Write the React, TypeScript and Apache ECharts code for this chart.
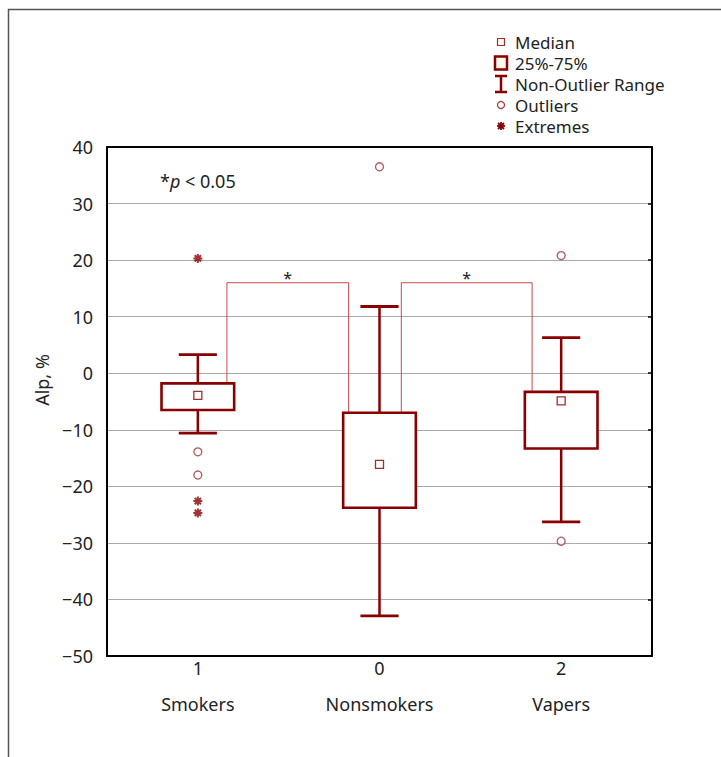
import React, { useEffect, useRef } from "react";
import * as echarts from "echarts";

const categories = ["Smokers", "Nonsmokers", "Vapers"];
const groupCodes = ["1", "0", "2"];
const whiskerLow = [-10.6, -42.9, -26.3];
const q1 = [-6.5, -23.8, -13.3];
const median = [-3.9, -16.1, -4.9];
const q3 = [-1.8, -7.0, -3.3];
const whiskerHigh = [3.3, 11.8, 6.3];
const outliers = [
  [0, -13.9],
  [0, -18.0],
  [1, 36.5],
  [2, 20.8],
  [2, -29.7],
];
const extremes = [
  [0, 20.3],
  [0, -22.6],
  [0, -24.7],
];
// [xFrom, xTo, yTop, yFromEnd, yToEnd]
const brackets = [
  [0.16, 0.83, 16.0, -1.8, -7.0],
  [1.12, 1.84, 16.0, -7.0, -3.3],
];
const legendLabels = ["Median", "25%-75%", "Non-Outlier Range", "Outliers", "Extremes"];
const yMin = -50;
const yMax = 40;
const yStep = 10;

const FONT = "Noto Sans";
const FS = 18;
const DARK = "#880000";
const MID = "#a03030";

export default function App() {
  const ref = useRef<HTMLDivElement>(null);
  useEffect(() => {
    if (!ref.current) return;
    const chart = echarts.init(ref.current, undefined, { renderer: "svg" });
    const boxData = categories.map((_, i) => [i, whiskerLow[i], q1[i], median[i], q3[i], whiskerHigh[i]]);
    const ln = (x1: number, y1: number, x2: number, y2: number, w: number, c: string) => ({
      type: "line",
      shape: { x1, y1, x2, y2 },
      style: { stroke: c, lineWidth: w },
    });
    const legY = [42, 63, 84, 105, 126];
    const option: any = {
      animation: false,
      backgroundColor: "#fff",
      textStyle: { fontFamily: FONT },
      grid: { left: 107, right: 69, top: 147, bottom: 101 },
      xAxis: [
        {
          type: "category",
          data: categories,
          position: "bottom",
          axisLine: { onZero: false, lineStyle: { color: "#000", width: 2 } },
          axisTick: { inside: true, length: 4, alignWithLabel: true, lineStyle: { color: "#000", width: 1.5 } },
          axisLabel: {
            formatter: (v: string, i: number) => `${groupCodes[i]}\n\n${v}`,
            lineHeight: 18,
            fontSize: FS,
            color: "#222",
            margin: 3,
            fontFamily: FONT,
          },
          splitLine: { show: false },
        },
        {
          type: "category",
          data: categories,
          position: "top",
          axisLine: { onZero: false, lineStyle: { color: "#000", width: 2 } },
          axisTick: { inside: true, length: 4, alignWithLabel: true, lineStyle: { color: "#000", width: 1.5 } },
          axisLabel: { show: false },
          splitLine: { show: false },
        },
        { type: "value", min: -0.5, max: 2.5, show: false, axisLine: { onZero: false } },
      ],
      yAxis: [
        {
          type: "value",
          min: yMin,
          max: yMax,
          interval: yStep,
          position: "left",
          axisLine: { show: true, onZero: false, lineStyle: { color: "#000", width: 2 } },
          axisTick: { show: false },
          axisLabel: {
            formatter: (v: number) => String(v).replace("-", "\u2212"),
            fontSize: FS,
            color: "#222",
            margin: 14,
            fontFamily: FONT,
          },
          splitLine: { lineStyle: { color: "#aaaaaa", width: 1 } },
        },
        {
          type: "value",
          min: yMin,
          max: yMax,
          interval: yStep,
          position: "right",
          axisLine: { show: true, onZero: false, lineStyle: { color: "#000", width: 2 } },
          axisTick: { show: true, inside: true, length: 4, lineStyle: { color: "#000", width: 1.5 } },
          axisLabel: { show: false },
          splitLine: { show: false },
        },
      ],
      series: [
        {
          type: "custom",
          name: "brackets",
          xAxisIndex: 2,
          yAxisIndex: 0,
          z: 2,
          data: brackets,
          renderItem: (_p: any, api: any) => {
            const a = api.coord([api.value(0), api.value(3)]);
            const b = api.coord([api.value(0), api.value(2)]);
            const c = api.coord([api.value(1), api.value(2)]);
            const d = api.coord([api.value(1), api.value(4)]);
            return {
              type: "group",
              children: [
                {
                  type: "polyline",
                  shape: { points: [a, b, c, d] },
                  style: { stroke: "#c84a4a", lineWidth: 1, fill: "none" },
                },
                {
                  type: "text",
                  style: {
                    text: "*",
                    x: (b[0] + c[0]) / 2,
                    y: b[1] + 3,
                    align: "center",
                    verticalAlign: "bottom",
                    fontSize: 16,
                    fontFamily: FONT,
                    fill: "#222",
                  },
                },
              ],
            };
          },
        },
        {
          type: "custom",
          name: "boxes",
          xAxisIndex: 2,
          yAxisIndex: 0,
          z: 3,
          data: boxData,
          encode: { x: 0, y: [1, 2, 3, 4, 5] },
          renderItem: (_p: any, api: any) => {
            const x = api.value(0);
            const lo = api.coord([x, api.value(1)]);
            const b1 = api.coord([x, api.value(2)]);
            const md = api.coord([x, api.value(3)]);
            const b3 = api.coord([x, api.value(4)]);
            const hi = api.coord([x, api.value(5)]);
            const band = api.size([1, 0])[0];
            const hw = band * 0.2;
            const cw = band * 0.105;
            const cx = lo[0];
            return {
              type: "group",
              children: [
                ln(cx, hi[1], cx, b3[1], 2.5, DARK),
                ln(cx, b1[1], cx, lo[1], 2.5, DARK),
                ln(cx - cw, hi[1], cx + cw, hi[1], 2.8, DARK),
                ln(cx - cw, lo[1], cx + cw, lo[1], 2.8, DARK),
                {
                  type: "rect",
                  shape: { x: cx - hw, y: b3[1], width: 2 * hw, height: b1[1] - b3[1] },
                  style: { fill: "#fff", stroke: DARK, lineWidth: 2.6 },
                },
                {
                  type: "rect",
                  shape: { x: cx - 4, y: md[1] - 4, width: 8, height: 8 },
                  style: { fill: "#fff", stroke: MID, lineWidth: 1.3 },
                },
              ],
            };
          },
        },
        {
          type: "scatter",
          name: "Outliers",
          xAxisIndex: 2,
          yAxisIndex: 0,
          z: 4,
          data: outliers,
          symbol: "circle",
          symbolSize: 8,
          itemStyle: { color: "#fff", borderColor: MID, borderWidth: 1.3 },
        },
        {
          type: "scatter",
          name: "Extremes",
          xAxisIndex: 2,
          yAxisIndex: 0,
          z: 4,
          data: extremes,
          symbol: "path://M0,5L10,5M5,0L5,10M1.5,1.5L8.5,8.5M8.5,1.5L1.5,8.5",
          symbolSize: 9,
          itemStyle: { color: "none", borderColor: DARK, borderWidth: 2 },
        },
      ],
      graphic: [
        {
          type: "rect",
          z: -10,
          shape: { x: 8.5, y: 9.5, width: 1000, height: 1000 },
          style: { fill: "none", stroke: "#555", lineWidth: 1.5 },
        },
        {
          type: "text",
          x: 42,
          y: 380,
          rotation: Math.PI / 2,
          style: {
            text: "Alp, %",
            align: "center",
            verticalAlign: "middle",
            fontSize: FS,
            fontFamily: FONT,
            fill: "#222",
          },
        },
        {
          type: "text",
          x: 160,
          y: 181,
          style: {
            text: "{a|*}{i|p}{a| < 0.05}",
            verticalAlign: "middle",
            rich: {
              a: { fontSize: FS, fontFamily: FONT, fill: "#222", color: "#222" },
              i: { fontSize: FS, fontFamily: FONT, fontStyle: "italic", fill: "#222", color: "#222" },
            },
          },
        },
        {
          type: "group",
          children: [
            {
              type: "rect",
              shape: { x: 497.5, y: legY[0] - 3.5, width: 7, height: 7 },
              style: { fill: "#fffaf0", stroke: MID, lineWidth: 1.2 },
            },
            {
              type: "rect",
              shape: { x: 495, y: legY[1] - 6.5, width: 12, height: 13 },
              style: { fill: "#fffaf0", stroke: DARK, lineWidth: 2.5 },
            },
            ln(495, legY[2] - 8, 507, legY[2] - 8, 2.5, DARK),
            ln(501, legY[2] - 8, 501, legY[2] + 8, 2.5, DARK),
            ln(495, legY[2] + 8, 507, legY[2] + 8, 2.5, DARK),
            {
              type: "circle",
              shape: { cx: 501, cy: legY[3], r: 3.5 },
              style: { fill: "#fff", stroke: MID, lineWidth: 1.2 },
            },
            ln(497, legY[4], 505, legY[4], 1.8, DARK),
            ln(501, legY[4] - 4, 501, legY[4] + 4, 1.8, DARK),
            ln(498, legY[4] - 3, 504, legY[4] + 3, 1.8, DARK),
            ln(504, legY[4] - 3, 498, legY[4] + 3, 1.8, DARK),
            ...legendLabels.map((t, i) => ({
              type: "text",
              x: 515,
              y: legY[i],
              style: {
                text: t,
                verticalAlign: "middle",
                fontSize: 17,
                fontFamily: FONT,
                fill: "#222",
              },
            })),
          ],
        },
      ],
    };
    chart.setOption(option);
    return () => chart.dispose();
  }, []);
  return (
    <div
      ref={ref}
      style={{ position: "fixed", left: 0, top: 0, width: 721, height: 757, background: "#fff" }}
    />
  );
}
